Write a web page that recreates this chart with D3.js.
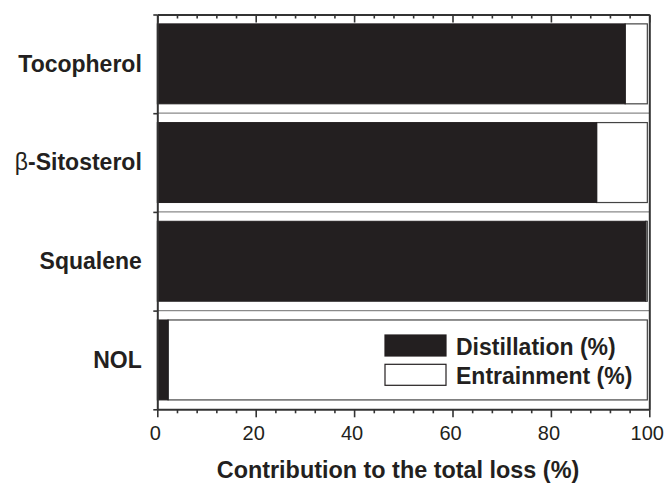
<!DOCTYPE html>
<html>
<head>
<meta charset="utf-8">
<script src="https://cdn.jsdelivr.net/npm/d3@7"></script>
<style>
  html, body { margin: 0; padding: 0; background: #fff; }
  svg { display: block; }
  text { font-family: "Liberation Sans", Arial, Helvetica, sans-serif; fill: #231f20; }
</style>
</head>
<body>
<svg id="chart" width="665" height="483"></svg>
<script>
// ---- data ----
const categories = ["Tocopherol", "β-Sitosterol", "Squalene", "NOL"];
const distillation = [95.1, 89.3, 99.3, 2.2];
const entrainment = [4.5, 10.3, 0.3, 97.4];
const seriesNames = ["Distillation (%)", "Entrainment (%)"];
const majorTicks = [0, 20, 40, 60, 80, 100];
const minorTicks = d3.range(0, 101, 4);
const xTitle = "Contribution to the total loss (%)";

// ---- layout ----
const svg = d3.select("#chart");
const pLeft = 157.3, pRight = 649.3, pTop = 14.5, pBottom = 409.3;
const ink = "#231f20";
const lineCol = "#333";

const x = d3.scaleLinear().domain([0, 100]).range([pLeft, pRight]);
const y = d3.scaleBand().domain(categories).range([pTop, pBottom])
  .paddingInner(0.19).paddingOuter(0.095);
const yIdx = d3.scaleLinear().domain([0, categories.length]).range([pTop, pBottom]);

// gray category boundary lines
svg.append("g").selectAll("line")
  .data(d3.range(1, categories.length))
  .join("line")
  .attr("x1", pLeft).attr("x2", pRight)
  .attr("y1", d => yIdx(d)).attr("y2", d => yIdx(d))
  .attr("stroke", "#8a8a8a").attr("stroke-width", 1.3);

// bars
const rows = categories.map((c, i) => ({ c, d: distillation[i], e: entrainment[i] }));
const bars = svg.append("g");
bars.selectAll("rect.ent")
  .data(rows).join("rect")
  .attr("class", "ent")
  .attr("x", d => x(d.d)).attr("width", d => x(d.d + d.e) - x(d.d))
  .attr("y", d => y(d.c)).attr("height", y.bandwidth())
  .attr("fill", "#fff").attr("stroke", "#444").attr("stroke-width", 1.2);
bars.selectAll("rect.dist")
  .data(rows).join("rect")
  .attr("class", "dist")
  .attr("x", x(0)).attr("width", d => x(d.d) - x(0))
  .attr("y", d => y(d.c)).attr("height", y.bandwidth())
  .attr("fill", ink).attr("stroke", ink).attr("stroke-width", 1);

// axes
function styleAxis(g) {
  g.selectAll(".domain").attr("stroke", lineCol).attr("stroke-width", 2);
  g.selectAll(".tick line").attr("stroke", lineCol).attr("stroke-width", 1.6);
}
// bottom major
const gB = svg.append("g").attr("transform", `translate(0,${pBottom})`)
  .call(d3.axisBottom(x).tickValues(majorTicks).tickSize(8).tickSizeOuter(0).tickPadding(8));
styleAxis(gB);
gB.attr("font-size", 20).attr("font-family", "Liberation Sans, Arial, sans-serif");
gB.selectAll(".tick text")
  .attr("font-size", 20)
  .attr("fill", ink).attr("dx", -2.5).attr("dy", "0.72em");
// bottom minor
const gBm = svg.append("g").attr("transform", `translate(0,${pBottom})`)
  .call(d3.axisBottom(x).tickValues(minorTicks.filter(v => v % 20 !== 0)).tickSize(4).tickFormat(""));
gBm.select(".domain").remove();
styleAxis(gBm);
// top major (inward)
const gT = svg.append("g").attr("transform", `translate(0,${pTop})`)
  .call(d3.axisTop(x).tickValues(majorTicks).tickSize(-8).tickSizeOuter(0).tickFormat(""));
styleAxis(gT);
const gTm = svg.append("g").attr("transform", `translate(0,${pTop})`)
  .call(d3.axisTop(x).tickValues(minorTicks.filter(v => v % 20 !== 0)).tickSize(-4).tickFormat(""));
gTm.select(".domain").remove();
styleAxis(gTm);
// left boundary ticks
const gL = svg.append("g").attr("transform", `translate(${pLeft},0)`)
  .call(d3.axisLeft(yIdx).tickValues(d3.range(0, categories.length + 1)).tickSize(4).tickSizeOuter(0).tickFormat(""));
styleAxis(gL);
// right frame
const gR = svg.append("g").attr("transform", `translate(${pRight},0)`)
  .call(d3.axisRight(yIdx).tickValues([]).tickSizeOuter(0));
styleAxis(gR);

// category labels
const gLab = svg.append("g").attr("transform", `translate(${pLeft},0)`)
  .call(d3.axisLeft(y).tickSize(0).tickPadding(15).tickFormat(""));
gLab.select(".domain").remove();
gLab.selectAll(".tick").each(function(d) {
  const t = d3.select(this).append("text")
    .attr("x", -15.5).attr("dy", "0.34em")
    .attr("text-anchor", "end")
    .attr("font-size", 23).attr("font-weight", "bold").attr("fill", ink);
  if (d.startsWith("β")) {
    t.append("tspan").attr("font-weight", "normal").text("β");
    t.append("tspan").text(d.slice(1));
  } else {
    t.text(d);
  }
});

// x title
svg.append("text")
  .attr("x", 398).attr("y", 477.5)
  .attr("text-anchor", "middle")
  .attr("font-size", 23.4).attr("font-weight", "bold")
  .text(xTitle);

// legend
const leg = svg.append("g").attr("transform", "translate(385,335)");
const legFills = [ink, "#fff"];
seriesNames.forEach((name, i) => {
  const gy = i * 29.3;
  leg.append("rect")
    .attr("x", 0).attr("y", gy).attr("width", 61).attr("height", 21)
    .attr("fill", legFills[i]).attr("stroke", ink).attr("stroke-width", 1.2);
  leg.append("text")
    .attr("x", 71).attr("y", gy + 19.5)
    .attr("font-size", 23).attr("font-weight", "bold")
    .text(name);
});
</script>
</body>
</html>
